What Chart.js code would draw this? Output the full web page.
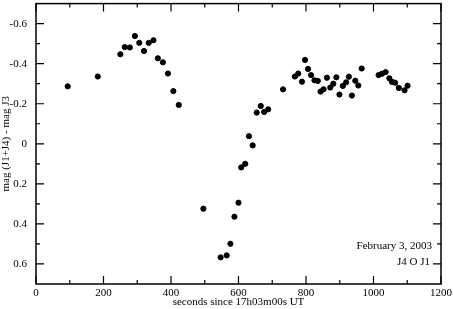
<!DOCTYPE html>
<html><head><meta charset="utf-8">
<script src="https://cdn.jsdelivr.net/npm/chart.js@4/dist/chart.umd.min.js"></script>
<style>html,body{margin:0;padding:0;background:#fff}canvas{display:block}</style>
</head><body>
<canvas id="c" width="453" height="309"></canvas>
<script>
const seconds = [94,183,250,263,278,293,306,320,334,348,361,376,391,407,423,
  496,547,565,576,588,600,608,620,631,642,654,666,676,688,732,767,777,788,797,806,815,825,835,843,852,862,872,881,890,899,909,919,927,936,946,955,965,
  1015,1025,1036,1047,1055,1064,1075,1092,1101];
const magDiff = [-0.287,-0.336,-0.447,-0.483,-0.481,-0.538,-0.504,-0.463,-0.504,-0.517,-0.427,-0.407,-0.351,-0.263,-0.194,
  0.324,0.567,0.557,0.499,0.364,0.294,0.118,0.100,-0.038,0.008,-0.156,-0.189,-0.159,-0.172,-0.272,-0.336,-0.351,-0.310,-0.419,-0.374,-0.343,-0.317,-0.314,-0.261,-0.272,-0.330,-0.281,-0.300,-0.332,-0.246,-0.289,-0.307,-0.335,-0.241,-0.315,-0.291,-0.376,
  -0.343,-0.350,-0.358,-0.327,-0.309,-0.305,-0.279,-0.267,-0.290];
const xTicks = [0,200,400,600,800,1000,1200];
const xMinorTicks = [100,300,500,700,900,1100];
const yTicks = [-0.6,-0.4,-0.2,0,0.2,0.4,0.6];
const yMinorTicks = [-0.5,-0.3,-0.1,0.1,0.3,0.5];
const xTitle = "seconds since 17h03m00s UT";
const yTitle = "mag (J1+J4) - mag J3";
const noteLines = ["February 3, 2003", "J4 O J1"];

const FONT = "'Liberation Serif', 'DejaVu Serif', serif";

const framePlugin = {
  id: 'frame',
  afterDraw(chart) {
    const {ctx, chartArea: a, scales: {x, y}} = chart;
    ctx.save();
    ctx.strokeStyle = '#000';
    ctx.lineWidth = 1.5;
    ctx.strokeRect(a.left, a.top, a.right - a.left, a.bottom - a.top);
    ctx.lineWidth = 1.2;
    ctx.beginPath();
    const tk = (vals, len) => {
      vals.forEach(v => {
        const px = x.getPixelForValue(v);
        ctx.moveTo(px, a.bottom); ctx.lineTo(px, a.bottom - len);
        ctx.moveTo(px, a.top); ctx.lineTo(px, a.top + len);
      });
    };
    const tky = (vals, len) => {
      vals.forEach(v => {
        const py = y.getPixelForValue(v);
        ctx.moveTo(a.left, py); ctx.lineTo(a.left + len, py);
        ctx.moveTo(a.right, py); ctx.lineTo(a.right - len, py);
      });
    };
    tk(xTicks, 8); tk(xMinorTicks, 4);
    tky(yTicks, 8); tky(yMinorTicks, 4);
    ctx.stroke();
    ctx.fillStyle = '#000';
    ctx.font = "11px " + FONT;
    ctx.textAlign = 'right';
    ctx.textBaseline = 'alphabetic';
    ctx.fillText(noteLines[0], a.right - 9, a.bottom - 35);
    ctx.fillText(noteLines[1], a.right - 11, a.bottom - 19);
    ctx.restore();
  }
};

new Chart(document.getElementById('c'), {
  type: 'scatter',
  data: {
    datasets: [{
      data: seconds.map((s, i) => ({x: s, y: magDiff[i]})),
      backgroundColor: '#000',
      borderColor: '#000',
      pointRadius: 2.6,
      pointHoverRadius: 2.6
    }]
  },
  options: {
    responsive: false,
    animation: false,
    events: [],
    layout: {padding: {top: 1, right: 12, left: 0, bottom: 0}},
    plugins: {legend: {display: false}, tooltip: {enabled: false}},
    scales: {
      x: {
        type: 'linear', min: 0, max: 1200,
        afterBuildTicks: s => { s.ticks = xTicks.map(v => ({value: v})); },
        afterFit: s => { s.height = 25; s.paddingLeft = 0; s.paddingRight = 0; },
        grid: {display: false, drawTicks: false},
        border: {display: false},
        ticks: {color: '#000', font: {family: FONT, size: 11}, padding: 3, maxRotation: 0,
          callback: v => String(v)},
        title: {display: true, text: xTitle, color: '#000', font: {family: FONT, size: 11}, padding: {top: 0, bottom: 0}}
      },
      y: {
        type: 'linear', min: -0.7, max: 0.7, reverse: true,
        afterBuildTicks: s => { s.ticks = yTicks.map(v => ({value: v})); },
        afterFit: s => { s.width = 36; s.paddingTop = 0; s.paddingBottom = 0; },
        grid: {display: false, drawTicks: false},
        border: {display: false},
        ticks: {color: '#000', font: {family: FONT, size: 11}, padding: 9,
          callback: v => (Math.abs(v) < 1e-9 ? '0' : v.toFixed(1))},
        title: {display: true, text: yTitle, color: '#000', font: {family: FONT, size: 11}, padding: {top: 0, bottom: 0}}
      }
    }
  },
  plugins: [framePlugin]
});
</script>
</body></html>
